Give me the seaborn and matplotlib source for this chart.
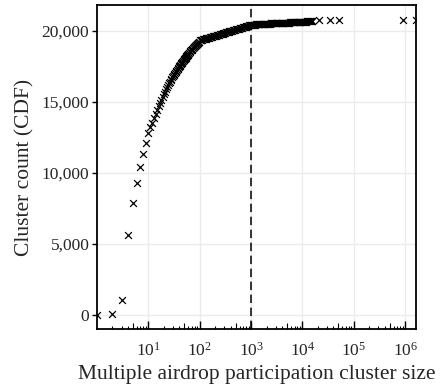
import pandas as pd
import matplotlib
matplotlib.use("Agg")
import matplotlib.pyplot as plt
import matplotlib.transforms as mtransforms
from matplotlib.ticker import FixedLocator, LogFormatterSciNotation, NullFormatter
import seaborn as sns

# cluster size (x) and cumulative cluster count (y)
cluster_size = [
    1, 2, 3, 4, 5, 6, 7, 8, 9, 10,
    11, 12, 13, 14, 15, 16, 17, 18, 19, 20,
    21, 22, 23, 24, 25, 26, 27, 28, 29, 30,
    31, 32, 33, 34, 35, 36, 37, 38, 39, 40,
    41, 42, 43, 44, 45, 46, 47, 48, 49, 50,
    51, 52, 53, 54, 55, 56, 57, 58, 59, 60,
    62, 64, 66, 68, 70, 72, 74, 76, 78, 80,
    82, 84, 86, 88, 90, 92, 94, 96, 98, 100,
    104, 108, 112, 116, 120, 125, 130, 135, 140, 145,
    150, 156, 162, 168, 175, 182, 190, 197, 205, 213,
    221, 230, 239, 248, 258, 268, 278, 289, 300, 312,
    324, 337, 350, 364, 378, 393, 408, 424, 440, 457,
    475, 494, 513, 533, 554, 576, 598, 621, 645, 670,
    696, 723, 751, 780, 810, 841, 874, 908, 943, 980,
    1000, 1040, 1080, 1120, 1160, 1200, 1250, 1300, 1350, 1400,
    1450, 1500, 1560, 1620, 1680, 1750, 1820, 1900, 1970, 2050,
    2130, 2210, 2300, 2390, 2480, 2580, 2680, 2780, 2890, 3000,
    3120, 3240, 3370, 3500, 3640, 3780, 3930, 4080, 4240, 4400,
    4570, 4750, 4940, 5130, 5330, 5540, 5760, 5980, 6210, 6450,
    6700, 6960, 7230, 7510, 7800, 8100, 8410, 8740, 9080, 9430,
    9800, 10200, 10600, 11000, 11400, 11900, 12400, 12900, 13400, 13900,
    14400, 15000, 15500, 21000, 34000, 51000, 890000, 1600000,
]
cluster_cdf = [
    0, 30, 1050, 5620, 7870, 9280, 10380, 11300, 12080, 12800,
    13200, 13550, 13870, 14150, 14430, 14700, 14950, 15160, 15360, 15550,
    15720, 15880, 16030, 16170, 16300, 16420, 16540, 16650, 16750, 16850,
    16925, 16998, 17069, 17138, 17205, 17270, 17333, 17394, 17453, 17510,
    17566, 17620, 17673, 17724, 17774, 17822, 17869, 17915, 17960, 18004,
    18047, 18089, 18130, 18170, 18209, 18247, 18284, 18320, 18355, 18389,
    18455, 18518, 18578, 18635, 18689, 18740, 18789, 18836, 18881, 18924,
    18965, 19004, 19041, 19076, 19109, 19140, 19169, 19197, 19223, 19330,
    19348, 19366, 19385, 19403, 19421, 19439, 19457, 19476, 19494, 19512,
    19530, 19548, 19567, 19585, 19603, 19621, 19639, 19658, 19676, 19694,
    19712, 19730, 19749, 19767, 19785, 19803, 19821, 19840, 19858, 19876,
    19894, 19912, 19931, 19949, 19967, 19985, 20003, 20022, 20040, 20058,
    20076, 20094, 20113, 20131, 20149, 20167, 20185, 20204, 20222, 20240,
    20258, 20276, 20295, 20313, 20331, 20349, 20367, 20386, 20404, 20422,
    20430, 20435, 20440, 20445, 20450, 20455, 20460, 20465, 20470, 20475,
    20480, 20484, 20488, 20492, 20496, 20500, 20504, 20508, 20512, 20516,
    20520, 20523, 20526, 20529, 20532, 20535, 20538, 20541, 20544, 20547,
    20550, 20553, 20556, 20559, 20562, 20565, 20568, 20571, 20574, 20577,
    20580, 20583, 20586, 20589, 20592, 20595, 20598, 20601, 20604, 20607,
    20610, 20613, 20616, 20619, 20622, 20625, 20628, 20631, 20634, 20637,
    20640, 20645, 20650, 20655, 20660, 20665, 20670, 20675, 20680, 20685,
    20690, 20695, 20700, 20740, 20760, 20770, 20780, 20790,
]
threshold = 1000
y_ticks = [0, 5000, 10000, 15000, 20000]
y_tick_labels = ["0", "5,000", "10,000", "15,000", "20,000"]
x_major = [10, 100, 1000, 10000, 100000, 1000000]

df = pd.DataFrame({"size": cluster_size, "cdf": cluster_cdf})

sns.set_theme(style="white")
plt.rcParams["font.family"] = ["Liberation Serif", "DejaVu Serif"]
plt.rcParams["mathtext.fontset"] = "custom"
plt.rcParams["mathtext.rm"] = "Liberation Serif"
plt.rcParams["mathtext.it"] = "Liberation Serif:italic"

fig = plt.figure(figsize=(4.4, 3.91), dpi=100)
ax = fig.add_axes([97 / 440, 1 - 329 / 391, (416 - 97) / 440, (329 - 5) / 391])

ax.set_xscale("log")
ax.set_xlim(1, 10 ** 6.21)
ax.set_ylim(-1000, 21830)

# grid (major only)
ax.set_axisbelow(True)
ax.grid(True, which="major", color="#ebebeb", linewidth=1.0)

ax.axvline(threshold, color="black", linestyle=(0, (5.5, 3)), linewidth=1.1, zorder=2)

sns.scatterplot(data=df, x="size", y="cdf", marker="x", color="black",
                s=24, linewidth=0.9, ax=ax, zorder=3, legend=False)

# y axis
ax.set_yticks(y_ticks)
ax.set_yticklabels(y_tick_labels)
ax.tick_params(axis="y", direction="out", length=3.5, width=1, color="black",
               labelsize=12.5, pad=2, left=True)

# x axis: log ticks drawn inside the panel
ax.xaxis.set_major_locator(FixedLocator(x_major))
ax.xaxis.set_major_formatter(LogFormatterSciNotation())
minor = [m * 10 ** e for e in range(0, 7) for m in (2, 3, 4, 6, 7, 8, 9)]
ax.xaxis.set_minor_locator(FixedLocator(minor))
ax.xaxis.set_minor_formatter(NullFormatter())
ax.tick_params(axis="x", which="major", direction="in", length=6, width=1,
               color="black", labelsize=12.5, pad=9, bottom=True)
ax.tick_params(axis="x", which="minor", direction="in", length=2.5, width=0.8,
               color="black", bottom=True)
mid = [5 * 10 ** e for e in range(0, 6)]
trans = mtransforms.blended_transform_factory(ax.transData, ax.transAxes)
ax.plot(mid, [0] * len(mid), transform=trans, marker=2, markersize=4.2,
        markeredgewidth=0.8, color="black", linestyle="none", clip_on=False)

for side in ["left", "bottom", "top", "right"]:
    ax.spines[side].set_color("black")
    ax.spines[side].set_linewidth(1.3)

ax.set_xlabel("Multiple airdrop participation cluster size", fontsize=15.5, labelpad=4)
ax.set_ylabel("Cluster count (CDF)", fontsize=15.5, labelpad=5)

fig.savefig("out.png", dpi=100)
